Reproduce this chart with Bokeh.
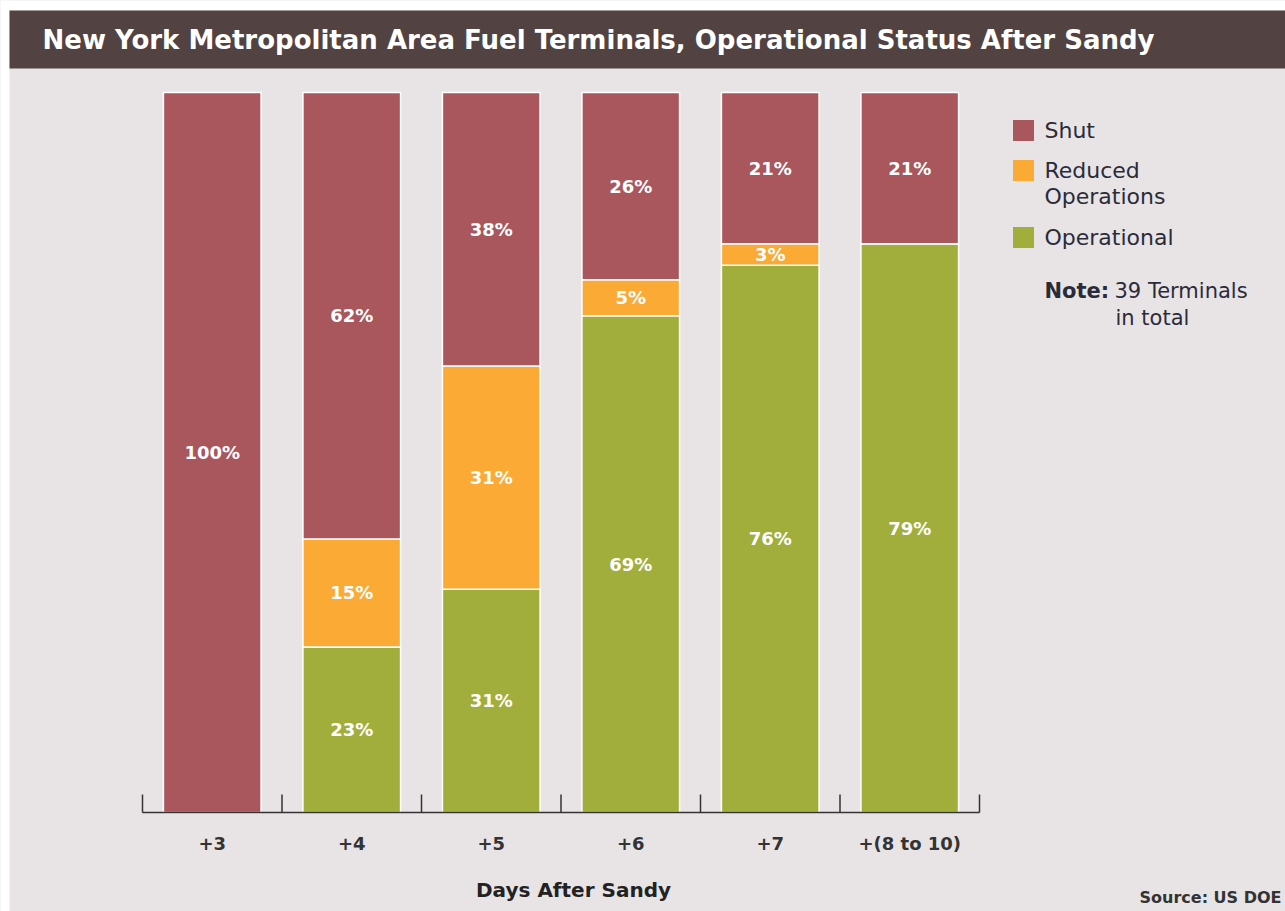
from bokeh.plotting import figure
from bokeh.models import Range1d, ColumnDataSource, LabelSet, Label, BoxAnnotation
from bokeh.core.properties import value
from bokeh.embed import file_html
from bokeh.resources import INLINE

# ---------------- data ----------------
days = ["+3", "+4", "+5", "+6", "+7", "+(8 to 10)"]
operational = [0, 23, 31, 69, 76, 79]
reduced = [0, 15, 31, 5, 3, 0]
shut = [100, 62, 38, 26, 21, 21]
series = ["operational", "reduced", "shut"]
legend_labels = ["Shut", "Reduced\nOperations", "Operational"]
title_text = "New York Metropolitan Area Fuel Terminals, Operational Status After Sandy"
x_title = "Days After Sandy"
source_text = "Source: US DOE"

# ---------------- style ----------------
C_SHUT = "#a9565d"
C_RED = "#fbaa35"
C_OP = "#a2ae3b"
BG = "#e8e4e6"
TITLE_BG = "#524241"
TXT = "#2b2b38"
FONT = "DejaVu Sans"

W, H = 1285, 911
AX_L, AX_R = 142, 979        # chart area in picture px
AX_TOP, AX_BOT = 92, 812

n = len(days)
cat_px = (AX_R - AX_L) / n
val_px = (AX_BOT - AX_TOP) / 100.0


def X(px):  # picture px -> x data
    return (px - AX_L) / cat_px


def Y(py):  # picture px -> y data
    return (AX_BOT - py) / val_px


p = figure(x_range=Range1d(X(0), X(W)), y_range=Range1d(Y(H), Y(0)),
           width=W, height=H, output_backend="svg", toolbar_location=None,
           x_axis_location=None, y_axis_location=None,
           min_border_left=0, min_border_right=0, min_border_top=0, min_border_bottom=0,
           background_fill_color=BG, border_fill_color=BG, outline_line_color=None)
p.xgrid.grid_line_color = None
p.ygrid.grid_line_color = None

xs = [i + 0.5 for i in range(n)]  # category centres
src = ColumnDataSource(dict(x=xs, day=days, operational=operational,
                            reduced=reduced, shut=shut))
rs = p.vbar_stack(series, x="x", width=0.7, color=[C_OP, C_RED, C_SHUT],
                  source=src, line_color="white", line_width=1.5)

# segment labels
lx, ly, lt = [], [], []
for i in range(n):
    base = 0
    for vals in (operational, reduced, shut):
        v = vals[i]
        if v > 0:
            lx.append(xs[i])
            ly.append(base + v / 2)
            lt.append(f"{v}%")
        base += v
lsrc = ColumnDataSource(dict(x=lx, y=ly, t=lt))
p.add_layout(LabelSet(x="x", y="y", text="t", source=lsrc, text_align="center",
                      text_baseline="middle", text_color="white",
                      text_font=value(FONT), text_font_style="bold", text_font_size="18px"))

# x axis: line, boundary ticks, category labels
bounds = list(range(n + 1))
tick_len = 18 / val_px
p.segment(x0=[0], y0=[0], x1=[n], y1=[0], line_color="#333333", line_width=1.5)
p.segment(x0=bounds, y0=[0] * len(bounds), x1=bounds, y1=[tick_len] * len(bounds),
          line_color="#333333", line_width=1.5)
p.text(x=xs, y=[Y(843)] * n, text=days, text_align="center", text_baseline="middle",
       text_font=value(FONT), text_font_style="bold", text_font_size="18px",
       text_color="#333333")

# white page edge and title bar
p.add_layout(BoxAnnotation(left=X(0), right=X(W), top=Y(0), bottom=Y(10),
                           fill_color="white", fill_alpha=1, line_color=None))
p.add_layout(BoxAnnotation(left=X(0), right=X(9), top=Y(0), bottom=Y(H),
                           fill_color="white", fill_alpha=1, line_color=None))
p.add_layout(BoxAnnotation(left=X(9), right=X(W), top=Y(10), bottom=Y(68),
                           fill_color=TITLE_BG, fill_alpha=1, line_color=None))
p.add_layout(Label(x=X(42), y=Y(39), text=title_text, text_color="white",
                   text_font=FONT, text_font_style="bold", text_font_size="26px",
                   text_baseline="middle"))

# legend (drawn by hand so that the two-line label aligns like the original)
leg_colors = [C_SHUT, C_RED, C_OP]
leg_y = [Y(130), Y(170), Y(237)]
p.rect(x=[X(1023)] * 3, y=leg_y, width=21, height=21, width_units="screen",
       height_units="screen", fill_color=leg_colors, line_color=None)
line_gap = 26 / val_px
for lab, ty in zip(legend_labels, leg_y):
    for k, line in enumerate(lab.split("\n")):
        p.add_layout(Label(x=X(1044), y=ty - k * line_gap, text=line, text_color=TXT,
                           text_font=FONT, text_font_size="22px",
                           text_baseline="middle"))

# note
p.add_layout(Label(x=X(1044), y=Y(290), text="Note:", text_color=TXT,
                   text_font=FONT, text_font_style="bold", text_font_size="21px",
                   text_baseline="middle"))
p.add_layout(Label(x=X(1114), y=Y(290), text="39 Terminals", text_color=TXT,
                   text_font=FONT, text_font_size="21px", text_baseline="middle"))
p.add_layout(Label(x=X(1115), y=Y(317), text="in total", text_color=TXT,
                   text_font=FONT, text_font_size="21px", text_baseline="middle"))

# x title and source
p.add_layout(Label(x=X(573), y=Y(889), text=x_title, text_color="#222222",
                   text_font=FONT, text_font_style="bold", text_font_size="20px",
                   text_align="center", text_baseline="middle"))
p.add_layout(Label(x=X(1281), y=Y(897), text=source_text, text_color="#333333",
                   text_font=FONT, text_font_style="bold", text_font_size="16px",
                   text_align="right", text_baseline="middle"))

open("out.html", "w").write(file_html(p, INLINE))
